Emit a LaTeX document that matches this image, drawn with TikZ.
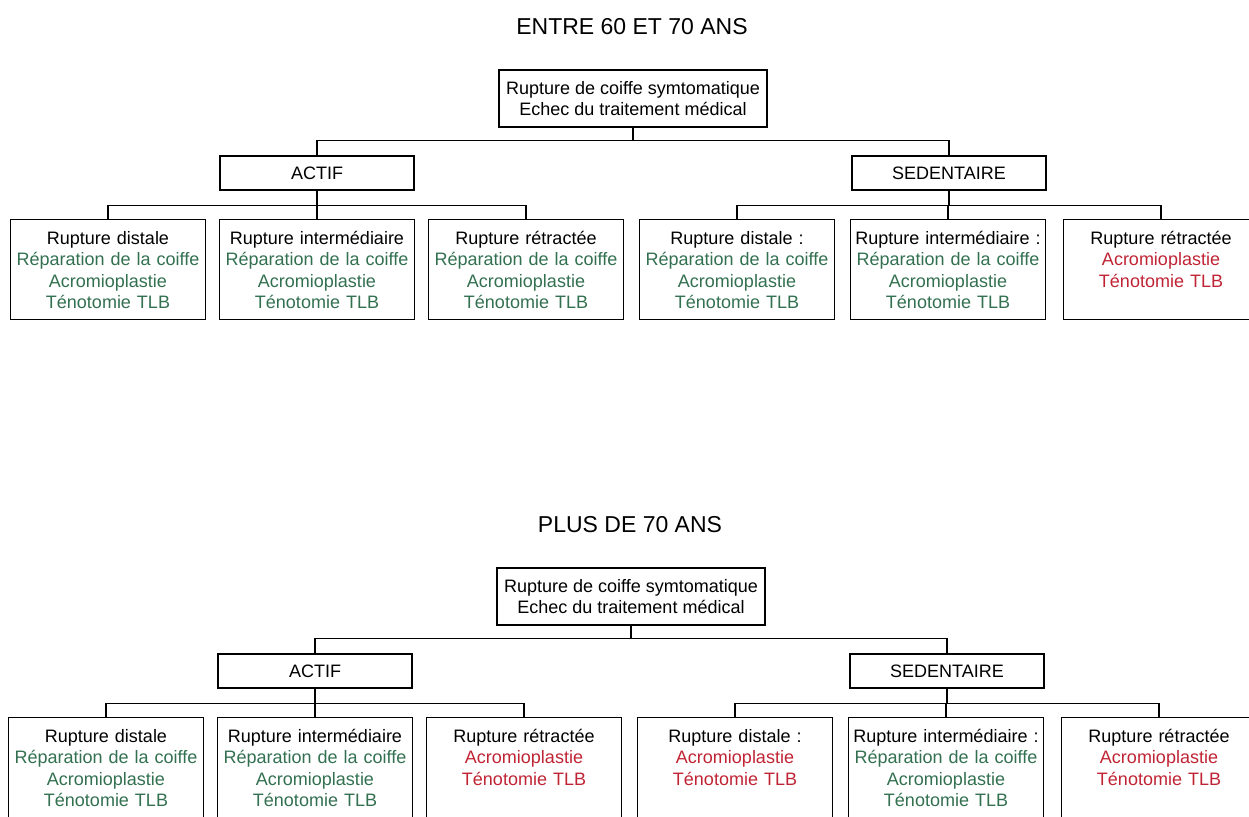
\documentclass[tikz,border=0pt]{standalone}
\usepackage{fontspec}
\setmainfont{Liberation Sans}
\definecolor{vert}{RGB}{50,112,80}
\definecolor{rouge}{RGB}{192,36,52}
\newcommand{\vtxt}[1]{\textcolor{vert}{#1}}
\newcommand{\rtxt}[1]{\textcolor{rouge}{#1}}

\begin{document}
\begin{tikzpicture}[%
	x=1pt, y=-1pt,%
	line width=1.3pt,%
	titre/.style ={font=\fontsize{23}{27}\selectfont},%
	racine/.style ={draw, align=center, minimum width=268, minimum height=57, font=\fontsize{18}{21.5}\selectfont},%
	groupe/.style ={draw, minimum width=194, minimum height=34, font=\fontsize{18}{21.5}\selectfont},%
	feuille/.style ={draw, align=center, text width=187, inner xsep=4, inner ysep=6, text height=18.5, text depth=69.5, anchor=north, font=\fontsize{18}{21.5}\selectfont},%
	]
	\useasboundingbox (0,0) rectangle (1249,816);
%%% entre 60 et 70 ans
	\node [titre] (h-titre) at (632,27) {ENTRE 60 ET 70 ANS};
	\node [racine] (h-racine) at (633,98.5) {Rupture de coiffe symtomatique\\Echec du traitement médical};
	\node [groupe] (h-actif) at (317,173) {ACTIF};
	\node [groupe] (h-sed) at (949,173) {SEDENTAIRE};
	%
	\node [feuille] (h-1) at (108,219) {Rupture distale\\\vtxt{Réparation de la coiffe}\\\vtxt{Acromioplastie}\\\vtxt{Ténotomie TLB}};
	\node [feuille] (h-2) at (317,219) {Rupture intermédiaire\\\vtxt{Réparation de la coiffe}\\\vtxt{Acromioplastie}\\\vtxt{Ténotomie TLB}};
	\node [feuille] (h-3) at (526,219) {Rupture rétractée\\\vtxt{Réparation de la coiffe}\\\vtxt{Acromioplastie}\\\vtxt{Ténotomie TLB}};
	\node [feuille] (h-4) at (737,219) {Rupture distale :\\\vtxt{Réparation de la coiffe}\\\vtxt{Acromioplastie}\\\vtxt{Ténotomie TLB}};
	\node [feuille] (h-5) at (948,219) {Rupture intermédiaire :\\\vtxt{Réparation de la coiffe}\\\vtxt{Acromioplastie}\\\vtxt{Ténotomie TLB}};
	\node [feuille] (h-6) at (1161,219) {Rupture rétractée\\\rtxt{Acromioplastie}\\\rtxt{Ténotomie TLB}};
	%
	\foreach \g in {actif,sed}
		{\draw (h-racine.south) -- ++(0,13) -| (h-\g.north);}
	\foreach \n in {1,2,3}
		{\draw (h-actif.south) -- ++(0,14.5) -| (h-\n.north);}
	\foreach \n in {4,5,6}
		{\draw (h-sed.south) -- ++(0,14.5) -| (h-\n.north);}
%%% entre 60 et 70 ans
%%% plus de 70 ans
\begin{scope}[shift={(-2,498)}]
	\node [titre] (b-titre) at (632,27) {PLUS DE 70 ANS};
	\node [racine] (b-racine) at (633,98.5) {Rupture de coiffe symtomatique\\Echec du traitement médical};
	\node [groupe] (b-actif) at (317,173) {ACTIF};
	\node [groupe] (b-sed) at (949,173) {SEDENTAIRE};
	%
	\node [feuille] (b-1) at (108,219) {Rupture distale\\\vtxt{Réparation de la coiffe}\\\vtxt{Acromioplastie}\\\vtxt{Ténotomie TLB}};
	\node [feuille] (b-2) at (317,219) {Rupture intermédiaire\\\vtxt{Réparation de la coiffe}\\\vtxt{Acromioplastie}\\\vtxt{Ténotomie TLB}};
	\node [feuille] (b-3) at (526,219) {Rupture rétractée\\\rtxt{Acromioplastie}\\\rtxt{Ténotomie TLB}};
	\node [feuille] (b-4) at (737,219) {Rupture distale :\\\rtxt{Acromioplastie}\\\rtxt{Ténotomie TLB}};
	\node [feuille] (b-5) at (948,219) {Rupture intermédiaire :\\\vtxt{Réparation de la coiffe}\\\vtxt{Acromioplastie}\\\vtxt{Ténotomie TLB}};
	\node [feuille] (b-6) at (1161,219) {Rupture rétractée\\\rtxt{Acromioplastie}\\\rtxt{Ténotomie TLB}};
	%
	\foreach \g in {actif,sed}
		{\draw (b-racine.south) -- ++(0,13) -| (b-\g.north);}
	\foreach \n in {1,2,3}
		{\draw (b-actif.south) -- ++(0,14.5) -| (b-\n.north);}
	\foreach \n in {4,5,6}
		{\draw (b-sed.south) -- ++(0,14.5) -| (b-\n.north);}
\end{scope}
%%% plus de 70 ans
\end{tikzpicture}
\end{document}
